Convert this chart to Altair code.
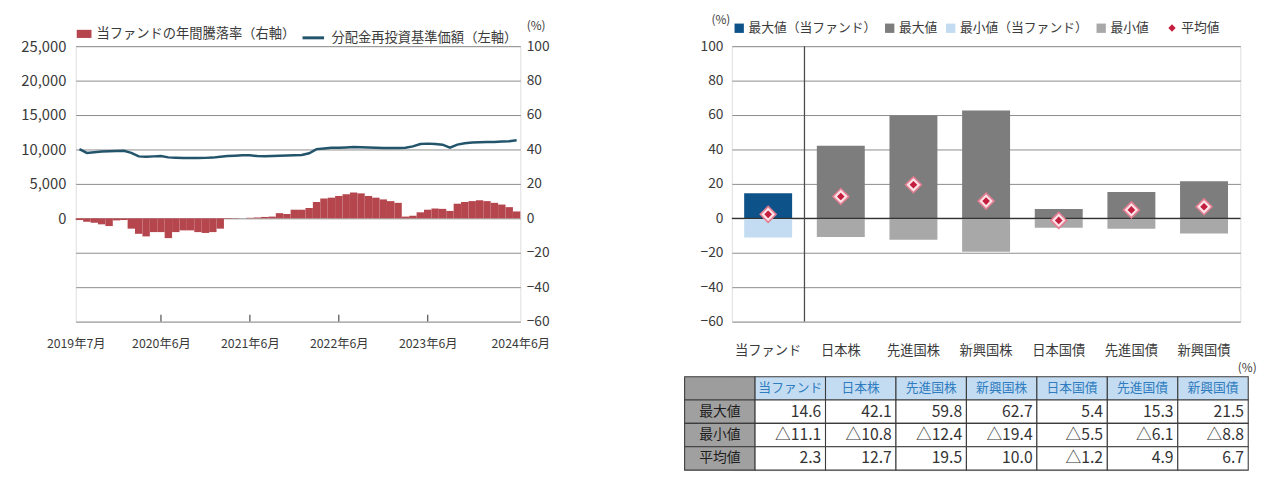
import re
import altair as alt
import pandas as pd

CJK = "Noto Sans CJK JP"
TEXT = "#3a3a3a"
GRID = "#8c8c8c"
FRAME = "#4d4d4d"
WIDE_RECT = "M-1,-0.55L1,-0.55L1,0.55L-1,0.55Z"

# ---------------------------------------------------------------------------
# Left panel: fund annual return (bars, right axis) and reinvested NAV
# (line, left axis), monthly from 2019年7月 to 2024年6月
# ---------------------------------------------------------------------------
annual_return = [
    -1.0, -2.0, -2.5, -3.5, -4.5, -1.2, -1.0, -6.0, -9.0, -10.5, -8.0, -8.0,
    -11.5, -8.0, -7.0, -7.0, -8.0, -8.5, -8.0, -6.0, -0.3, -0.2, 0.0, 0.3,
    0.5, 0.8, 1.0, 3.0, 2.5, 5.0, 5.0, 6.0, 9.5, 11.5, 12.0, 13.0,
    14.0, 15.0, 14.5, 13.0, 12.0, 11.0, 10.0, 9.0, 1.0, 1.5, 3.5, 5.0,
    5.7, 5.5, 4.3, 8.5, 9.5, 10.0, 10.5, 10.0, 9.0, 8.0, 6.5, 4.0,
]
nav = [
    10050, 9500, 9600, 9700, 9750, 9780, 9800, 9500, 9000, 8950, 9000, 9050,
    8850, 8800, 8750, 8750, 8760, 8780, 8820, 8950, 9050, 9100, 9150, 9150,
    9050, 9020, 9050, 9100, 9120, 9150, 9200, 9450, 10050, 10150, 10250, 10250,
    10300, 10350, 10330, 10300, 10250, 10200, 10200, 10220, 10250, 10450, 10800, 10850,
    10800, 10700, 10250, 10700, 10900, 11000, 11050, 11100, 11100, 11150, 11200, 11350,
]
date_labels = ["2019年7月", "2020年6月", "2021年6月", "2022年6月", "2023年6月", "2024年6月"]
ret_ticks = [-60, -40, -20, 0, 20, 40, 60, 80, 100]
nav_ticks = [0, 5000, 10000, 15000, 20000, 25000]

BAR_NAME = "当ファンドの年間騰落率（右軸）"
LINE_NAME = "分配金再投資基準価額（左軸）"


def month_index(label):
    y, m = map(int, re.match(r"(\d+)年(\d+)月", label).groups())
    return (y - 2019) * 12 + (m - 7)


n = len(annual_return)
monthly = pd.DataFrame({
    "i0": list(range(n)),
    "i1": [i + 1 for i in range(n)],
    "ic": [i + 0.5 for i in range(n)],
    "ret": annual_return,
    "nav": nav,
    "bar_key": BAR_NAME,
    "line_key": LINE_NAME,
})

# first label sits on the left edge, last on the right edge, others mid-month
tick_pos = []
for k, lab in enumerate(date_labels):
    idx = month_index(lab)
    if k == 0:
        tick_pos.append(float(idx))
    elif k == len(date_labels) - 1:
        tick_pos.append(float(idx + 1))
    else:
        tick_pos.append(idx + 0.5)
ticks_df = pd.DataFrame({"pos": tick_pos, "lab": date_labels})
label_expr = " : ".join(
    f"datum.value == {p} ? '{l}'" for p, l in zip(tick_pos, date_labels)
) + " : ''"

x_month = alt.Scale(domain=[0, n], nice=False, zero=False)
x_axis = alt.Axis(
    title=None, values=tick_pos, labelExpr=label_expr, ticks=False, grid=False,
    domain=False, labelFont=CJK, labelFontSize=12.5, labelColor=TEXT,
    labelPadding=16, labelFlush=False, labelOverlap=False,
)
ret_scale = alt.Scale(domain=[-60, 100], nice=False, zero=False)
ret_axis = alt.Axis(
    orient="right", values=ret_ticks, grid=True, gridColor=GRID,
    gridWidth=1, ticks=False, domain=False, labelFont=CJK,
    labelFontSize=14, labelColor=TEXT, labelPadding=6, labelOverlap=False,
    title="(%)", titleAngle=0, titleFont=CJK, titleFontSize=12,
    titleFontWeight="normal", titleColor=TEXT, titleAlign="left",
    titleBaseline="bottom", titleX=6, titleY=-14,
)
legend_text = dict(labelFont=CJK, labelFontSize=13.5, labelColor=TEXT, labelLimit=400)

bars = alt.Chart(monthly).mark_bar(color="#b5464e").encode(
    x=alt.X("i0:Q", scale=x_month, axis=x_axis),
    x2="i1:Q",
    y=alt.Y("ret:Q", scale=ret_scale, axis=ret_axis),
    y2=alt.datum(0),
    color=alt.Color(
        "bar_key:N", scale=alt.Scale(range=["#b5464e"]),
        legend=alt.Legend(
            title=None, orient="none", legendX=0, legendY=-21,
            symbolType=WIDE_RECT, symbolSize=225, labelOffset=4, **legend_text,
        ),
    ),
)

# small inward tick marks along the bottom frame
inner_ticks = alt.Chart(ticks_df.iloc[1:-1]).mark_rule(color=FRAME, strokeWidth=1.2).encode(
    x=alt.X("pos:Q", scale=x_month, axis=x_axis),
    y=alt.YDatum(-60, scale=ret_scale, axis=ret_axis),
    y2=alt.datum(-56),
)

line = alt.Chart(monthly).mark_line(strokeWidth=2.5, color="#22546b").encode(
    x=alt.X("ic:Q", scale=x_month, axis=x_axis),
    y=alt.Y(
        "nav:Q", scale=alt.Scale(domain=[-15000, 25000], nice=False, zero=False),
        axis=alt.Axis(
            orient="left", values=nav_ticks, format=",d", grid=False, ticks=False,
            domain=False, labelFont=CJK, labelFontSize=15, labelColor=TEXT,
            labelPadding=10, labelOverlap=False, title=None,
        ),
    ),
    stroke=alt.Stroke(
        "line_key:N", scale=alt.Scale(range=["#22546b"]),
        legend=alt.Legend(
            title=None, orient="none", legendX=229, legendY=-21,
            symbolType="stroke", symbolStrokeWidth=3, symbolSize=480,
            labelOffset=6, **legend_text,
        ),
    ),
)

left = (
    alt.layer(alt.layer(bars, inner_ticks), line)
    .resolve_scale(y="independent", color="independent", stroke="independent")
    .resolve_axis(y="independent")
    .properties(width=452, height=280)
)

# ---------------------------------------------------------------------------
# Right panel: max / min / average annual return by asset class
# ---------------------------------------------------------------------------
assets = ["当ファンド", "日本株", "先進国株", "新興国株", "日本国債", "先進国債", "新興国債"]
max_vals = [14.6, 42.1, 59.8, 62.7, 5.4, 15.3, 21.5]
min_vals = [-11.1, -10.8, -12.4, -19.4, -5.5, -6.1, -8.8]
avg_vals = [2.3, 12.7, 19.5, 10.0, -1.2, 4.9, 6.7]

kinds = ["最大値（当ファンド）", "最大値", "最小値（当ファンド）", "最小値"]
kind_colors = ["#0d5288", "#7d7d7d", "#c3dcf1", "#a8a8a8"]
AVG_NAME = "平均値"

bar_rows = []
for i, a in enumerate(assets):
    bar_rows.append({"asset": a, "kind": kinds[0] if i == 0 else kinds[1], "v": max_vals[i]})
    bar_rows.append({"asset": a, "kind": kinds[2] if i == 0 else kinds[3], "v": min_vals[i]})
bars_df = pd.DataFrame(bar_rows)
avg_df = pd.DataFrame({"asset": assets, "v": avg_vals, "key": AVG_NAME})

asset_scale = alt.Scale(domain=assets, paddingInner=0, paddingOuter=0)
asset_axis = alt.Axis(
    title=None, labelAngle=0, ticks=False, domain=False, grid=False,
    labelFont=CJK, labelFontSize=13.5, labelColor=TEXT, labelPadding=22,
)
x_asset = alt.X("asset:N", sort=assets, scale=asset_scale, axis=asset_axis)
y_pct = alt.Scale(domain=[-60, 100], nice=False, zero=False)
y_axis = alt.Axis(
    values=ret_ticks, grid=True, gridColor=GRID, gridWidth=1, ticks=False,
    domain=False, labelFont=CJK, labelFontSize=14, labelColor=TEXT,
    labelPadding=9, labelOverlap=False, title="(%)", titleAngle=0, titleFont=CJK,
    titleFontSize=12, titleFontWeight="normal", titleColor=TEXT, titleAlign="right",
    titleBaseline="bottom", titleX=-2, titleY=-20,
)

range_bars = alt.Chart(bars_df).mark_bar(width=alt.RelativeBandSize(0.66)).encode(
    x=x_asset,
    y=alt.Y("v:Q", scale=y_pct, axis=y_axis),
    y2=alt.datum(0),
    color=alt.Color(
        "kind:N", sort=kinds, scale=alt.Scale(domain=kinds, range=kind_colors),
        legend=alt.Legend(
            title=None, orient="none", legendX=1, legendY=-25, direction="horizontal",
            symbolType="square", symbolSize=90, labelOffset=3, columnPadding=6,
            labelFont=CJK, labelFontSize=13, labelColor=TEXT, labelLimit=400,
        ),
    ),
)

zero_line = alt.Chart(avg_df.head(1)).mark_rule(color="#333333", strokeWidth=1.4).encode(
    y=alt.YDatum(0, scale=y_pct, axis=y_axis)
)
separator = alt.Chart(pd.DataFrame({"asset": assets[1:2]})).mark_rule(
    color=FRAME, strokeWidth=1.3
).encode(x=alt.X("asset:N", sort=assets, scale=asset_scale, axis=asset_axis, bandPosition=0))

avg_halo = alt.Chart(avg_df).mark_point(
    shape="diamond", filled=True, size=260, fill="#fbe4e8", stroke="#e27d91",
    strokeWidth=1.6, opacity=1,
).encode(x=x_asset, y=alt.Y("v:Q", scale=y_pct, axis=y_axis))
avg_core = alt.Chart(avg_df).mark_point(
    shape="diamond", filled=True, size=60, color="#c41d3d", opacity=1,
).encode(
    x=x_asset,
    y=alt.Y("v:Q", scale=y_pct, axis=y_axis),
    shape=alt.Shape(
        "key:N", scale=alt.Scale(range=["diamond"]),
        legend=alt.Legend(
            title=None, orient="none", legendX=441, legendY=-25,
            symbolFillColor="#c41d3d", symbolStrokeColor="#c41d3d", symbolSize=55,
            labelOffset=3, labelFont=CJK, labelFontSize=13, labelColor=TEXT,
        ),
    ),
)

right = alt.layer(
    range_bars, zero_line, separator, avg_halo, avg_core
).properties(width=517, height=280)

# ---------------------------------------------------------------------------
# Summary table under the right panel
# ---------------------------------------------------------------------------
row_names = ["最大値", "最小値", "平均値"]
col_keys = ["項目"] + assets
row_keys = ["見出し"] + row_names


def fmt(v):
    return f"{v:.1f}" if v >= 0 else f"△{abs(v):.1f}"


cells = [{"col": "項目", "row": "見出し", "role": "corner", "txt": ""}]
for a in assets:
    cells.append({"col": a, "row": "見出し", "role": "head", "txt": a})
for r, vals in zip(row_names, [max_vals, min_vals, avg_vals]):
    cells.append({"col": "項目", "row": r, "role": "rowhead", "txt": r})
    for a, v in zip(assets, vals):
        cells.append({"col": a, "row": r, "role": "value", "txt": fmt(v)})
cells_df = pd.DataFrame(cells)

roles = ["corner", "head", "rowhead", "value"]
role_fill = ["#9d9d9d", "#c4dcf2", "#a0a0a0", "#ffffff"]

tx = alt.Scale(domain=col_keys, paddingInner=0, paddingOuter=0, range=[-48, 525])
ty = alt.Scale(domain=row_keys, paddingInner=0, paddingOuter=0)
tcol = alt.X("col:N", sort=col_keys, scale=tx, axis=None)
trow = alt.Y("row:N", sort=row_keys, scale=ty, axis=None)

cell_rects = alt.Chart(cells_df).mark_rect(stroke="#3c3c3c", strokeWidth=1.1).encode(
    x=tcol, y=trow,
    fill=alt.Fill("role:N", scale=alt.Scale(domain=roles, range=role_fill), legend=None),
)
head_text = alt.Chart(cells_df[cells_df.role == "head"]).mark_text(
    font=CJK, fontSize=13, color="#2f7cc0"
).encode(x=tcol, y=trow, text="txt:N")
rowhead_text = alt.Chart(cells_df[cells_df.role == "rowhead"]).mark_text(
    font=CJK, fontSize=14, color="#1e1e1e"
).encode(x=tcol, y=trow, text="txt:N")
value_text = alt.Chart(cells_df[cells_df.role == "value"]).mark_text(
    font=CJK, fontSize=16, color="#333333", align="right"
).encode(
    x=alt.X("col:N", sort=col_keys, scale=tx, axis=None, bandPosition=0.94),
    y=trow, text="txt:N",
)

table = alt.layer(cell_rects, head_text, rowhead_text, value_text).properties(
    width=517, height=95,
    title=alt.TitleParams(
        "(%)", anchor="end", font=CJK, fontSize=12, fontWeight="normal",
        color=TEXT, offset=1, dx=8,
    ),
)

right_col = alt.vconcat(right, table, spacing=56, bounds="flush").resolve_scale(
    color="independent", shape="independent", fill="independent"
).resolve_legend(color="independent", shape="independent", fill="independent")

chart = (
    alt.hconcat(left, right_col, spacing=134)
    .resolve_scale(color="independent", stroke="independent", shape="independent",
                   fill="independent")
    .resolve_legend(color="independent", stroke="independent", shape="independent",
                    fill="independent")
    .configure_view(stroke=FRAME, strokeWidth=1.4)
    .configure(padding={"left": 20, "top": 9, "right": 4, "bottom": 0}, background="white")
)

chart.save("out.html", embed_options={"renderer": "svg", "actions": False})
